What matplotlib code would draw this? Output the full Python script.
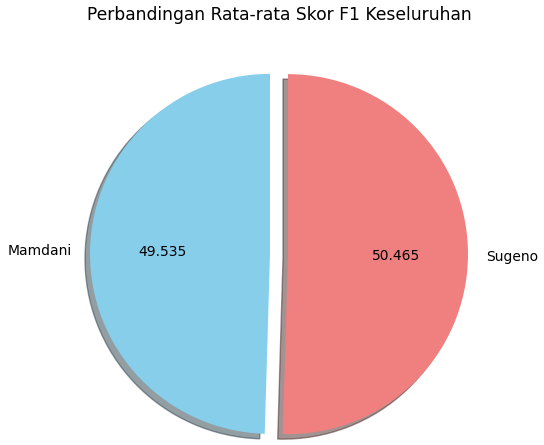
import matplotlib
matplotlib.use('Agg')
import matplotlib.pyplot as plt

### data ###
metode = ['Mamdani', 'Sugeno']
skor_f1 = [49.535, 50.465]
warna = ['skyblue', 'lightcoral']
explode = (0.05, 0.05)

fig = plt.figure(figsize=(5.44, 4.45), dpi=100)
# pie radius ~180 px, centre at (279, 254) from top-left
ax = fig.add_axes([54 / 544, -34 / 445, 450 / 544, 450 / 445])
ax.pie(skor_f1, labels=metode, colors=warna, explode=explode,
       autopct='%.3f', startangle=90, shadow=True)
ax.axis('equal')
ax.set_xlim(-1.25, 1.25)
ax.set_ylim(-1.25, 1.25)

fig.text(279 / 544, 1 - 15 / 445, 'Perbandingan Rata-rata Skor F1 Keseluruhan',
         ha='center', va='center', fontsize=12.3)

fig.savefig('out.png', dpi=100)
